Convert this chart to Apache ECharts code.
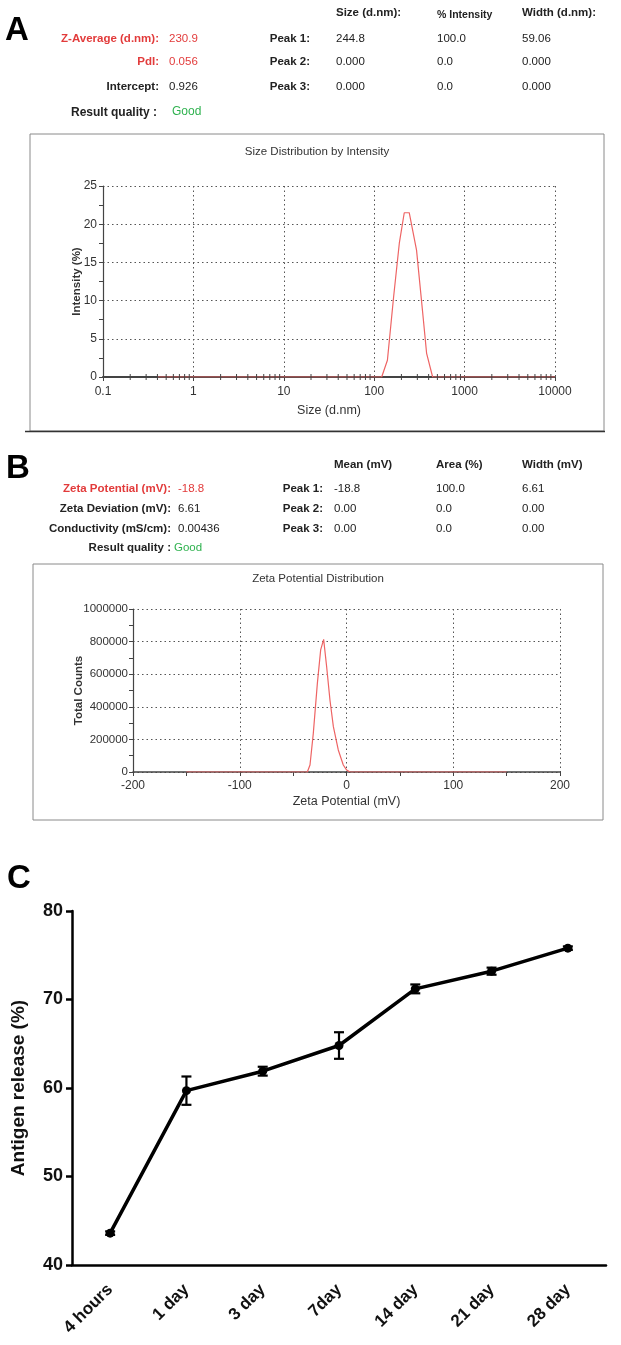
<!DOCTYPE html>
<html>
<head>
<meta charset="utf-8">
<script src="https://cdn.jsdelivr.net/npm/echarts@6/dist/echarts.min.js"></script>
<style>
html,body{margin:0;padding:0;background:#fff;}
#chart{width:621px;height:1345px;}
</style>
</head>
<body>
<div id="chart"></div>
<script>
// ---------- Panel A data ----------
const aLabels = ['Z-Average (d.nm):', 'PdI:', 'Intercept:'];
const aValues = ['230.9', '0.056', '0.926'];
const aPeakHeaders = ['Size (d.nm):', '% Intensity', 'Width (d.nm):'];
const aPeakNames = ['Peak 1:', 'Peak 2:', 'Peak 3:'];
const aPeakSize = ['244.8', '0.000', '0.000'];
const aPeakIntensity = ['100.0', '0.0', '0.0'];
const aPeakWidth = ['59.06', '0.000', '0.000'];
const aQuality = 'Good';
const sizeNm = [0.4, 1, 10, 100, 121, 140, 164, 190, 215, 244, 294, 342, 380, 443, 531, 1000, 10000];
const intensityPct = [0, 0, 0, 0, 0, 2.2, 10.5, 17.6, 21.5, 21.5, 16.6, 8.7, 3.1, 0, 0, 0, 0];
const logDecades = [0.1, 1, 10, 100, 1000];
const logMinorSteps = [2, 3, 4, 5, 6, 7, 8, 9];

// ---------- Panel B data ----------
const bLabels = ['Zeta Potential (mV):', 'Zeta Deviation (mV):', 'Conductivity (mS/cm):'];
const bValues = ['-18.8', '6.61', '0.00436'];
const bPeakHeaders = ['Mean (mV)', 'Area (%)', 'Width (mV)'];
const bPeakNames = ['Peak 1:', 'Peak 2:', 'Peak 3:'];
const bPeakMean = ['-18.8', '0.00', '0.00'];
const bPeakArea = ['100.0', '0.0', '0.0'];
const bPeakWidth = ['6.61', '0.00', '0.00'];
const bQuality = 'Good';
const zetaMv = [-150, -40, -36.7, -34.2, -31.1, -27.3, -24.2, -21.4, -18.6, -15.5, -12.3, -7.7, -3.0, 0.2, 3.3, 150];
const totalCounts = [0, 0, 0, 43000, 237000, 544000, 749000, 814000, 646000, 442000, 278000, 135000, 43000, 12000, 0, 0];

// ---------- Panel C data ----------
const timePoints = ['4 hours', '1 day', '3 day', '7day', '14 day', '21 day', '28 day'];
const releasePct = [43.6, 59.7, 61.9, 64.8, 71.2, 73.2, 75.8];
const releaseErr = [0.2, 1.6, 0.5, 1.5, 0.5, 0.4, 0.2];

// ---------- helpers ----------
const SANS = "'Liberation Sans', Arial, sans-serif";
const NARROW = "'Liberation Sans Narrow', 'Liberation Sans', Arial, sans-serif";
const RED_TXT = '#e23b3b';
const GREEN_TXT = '#2fb24f';
const DARK = '#222';
const G = [];
function T(x, y, text, o) {
  o = o || {};
  G.push({
    type: 'text', x: x, y: y, silent: true, z: 10,
    style: {
      text: text, fill: o.c || DARK,
      font: (o.w || 'normal') + ' ' + (o.s || 11.5) + 'px ' + (o.f || SANS),
      textAlign: o.a || 'left', textVerticalAlign: 'middle', verticalAlign: 'middle'
    }
  });
}
function R(x, y, w, h, stroke, lw) {
  G.push({type: 'rect', silent: true, z: 1, shape: {x: x, y: y, width: w, height: h},
    style: {fill: 'none', stroke: stroke, lineWidth: lw}});
}
function L(x1, y1, x2, y2, stroke, lw) {
  G.push({type: 'line', silent: true, z: 2, shape: {x1: x1, y1: y1, x2: x2, y2: y2},
    style: {stroke: stroke, lineWidth: lw}});
}

// Panel letters
T(5, 31, 'A', {w: 'bold', s: 33, c: '#000'});
T(6, 469, 'B', {w: 'bold', s: 33, c: '#000'});
T(7, 879, 'C', {w: 'bold', s: 33, c: '#000'});

// Panel A table
const aRowY = [39, 62, 87];
aLabels.forEach(function (t, i) {
  const red = i < 2;
  T(159, aRowY[i], t, {a: 'right', w: 'bold', c: red ? RED_TXT : DARK});
  T(169, aRowY[i], aValues[i], {c: red ? RED_TXT : DARK});
});
T(157, 113, 'Result quality :', {a: 'right', w: 'bold', s: 12});
T(172, 112, aQuality, {c: GREEN_TXT, s: 12});
const aColX = [336, 437, 522];
aPeakHeaders.forEach(function (t, i) {
  T(aColX[i], i === 1 ? 15 : 13, t, {w: 'bold', s: i === 1 ? 10.5 : 11.5});
});
aPeakNames.forEach(function (t, i) {
  T(310, aRowY[i], t, {a: 'right', w: 'bold'});
  T(aColX[0], aRowY[i], aPeakSize[i]);
  T(aColX[1], aRowY[i], aPeakIntensity[i]);
  T(aColX[2], aRowY[i], aPeakWidth[i]);
});
R(30, 134, 574, 297, '#8a8a8a', 1);
L(25, 431.5, 605, 431.5, '#333', 1.6);
T(317, 152, 'Size Distribution by Intensity', {a: 'center', s: 11.5, f: NARROW, c: '#333'});

// Panel B table
const bRowY = [489, 509, 529];
bLabels.forEach(function (t, i) {
  const red = i === 0;
  T(171, bRowY[i], t, {a: 'right', w: 'bold', c: red ? RED_TXT : DARK});
  T(178, bRowY[i], bValues[i], {c: red ? RED_TXT : DARK});
});
T(171, 548, 'Result quality :', {a: 'right', w: 'bold'});
T(174, 548, bQuality, {c: GREEN_TXT});
const bColX = [334, 436, 522];
bPeakHeaders.forEach(function (t, i) { T(bColX[i], 465, t, {w: 'bold'}); });
bPeakNames.forEach(function (t, i) {
  T(323, bRowY[i], t, {a: 'right', w: 'bold'});
  T(bColX[0], bRowY[i], bPeakMean[i]);
  T(bColX[1], bRowY[i], bPeakArea[i]);
  T(bColX[2], bRowY[i], bPeakWidth[i]);
});
R(33, 564, 570, 256, '#8a8a8a', 1);
T(318, 579, 'Zeta Potential Distribution', {a: 'center', s: 11.5, f: NARROW, c: '#333'});

// ---------- option ----------
const logMinor = [];
logDecades.forEach(function (d) { logMinorSteps.forEach(function (k) { logMinor.push([k * d, 0]); }); });

const AX = '#444';
const dotted = {show: true, lineStyle: {type: [1.5, 3], color: '#555', width: 1}};
const smallLabel = {color: '#333', fontSize: 12, fontFamily: NARROW};
const plain = function (v) { return String(v); };

const option = {
  backgroundColor: '#fff',
  animation: false,
  graphic: G,
  grid: [
    {left: 103, top: 186, width: 452, height: 191},
    {left: 133, top: 609, width: 427, height: 163},
    {left: 72, top: 911, width: 534, height: 354}
  ],
  xAxis: [
    {
      gridIndex: 0, type: 'log', logBase: 10, min: 0.1, max: 10000,
      axisLine: {onZero: false, lineStyle: {color: AX, width: 2}},
      axisTick: {length: 4, lineStyle: {color: AX}},
      axisLabel: Object.assign({margin: 9, formatter: function (v) { return v < 1 ? String(+v.toFixed(1)) : String(Math.round(v)); }}, smallLabel),
      splitLine: dotted,
      name: 'Size (d.nm)', nameLocation: 'middle', nameGap: 27, nameMoveOverlap: false,
      nameTextStyle: {color: '#333', fontSize: 12.5, fontFamily: NARROW}
    },
    {
      gridIndex: 1, type: 'value', min: -200, max: 200, interval: 100,
      axisLine: {onZero: false, lineStyle: {color: AX, width: 1.5}},
      axisTick: {length: 4, lineStyle: {color: AX}},
      minorTick: {show: true, splitNumber: 2, length: 4, lineStyle: {color: AX}},
      axisLabel: Object.assign({margin: 8, formatter: plain}, smallLabel),
      splitLine: dotted,
      name: 'Zeta Potential (mV)', nameLocation: 'middle', nameGap: 23, nameMoveOverlap: false,
      nameTextStyle: {color: '#333', fontSize: 12.5, fontFamily: NARROW}
    },
    {
      gridIndex: 2, type: 'category', data: timePoints, boundaryGap: true,
      axisLine: {onZero: false, lineStyle: {color: '#000', width: 2.5}},
      axisTick: {alignWithLabel: true, length: 6, lineStyle: {color: '#000', width: 2.5}},
      axisLabel: {rotate: 45, margin: 22, color: '#111', fontSize: 17, fontWeight: 'bold', fontFamily: SANS, interval: 0},
      splitLine: {show: false}
    }
  ],
  yAxis: [
    {
      gridIndex: 0, type: 'value', min: 0, max: 25, interval: 5,
      axisLine: {show: true, onZero: false, lineStyle: {color: AX, width: 1.2}},
      axisTick: {show: true, length: 4, lineStyle: {color: AX}},
      minorTick: {show: true, splitNumber: 2, length: 4, lineStyle: {color: AX}},
      axisLabel: Object.assign({margin: 6, formatter: plain}, smallLabel),
      splitLine: dotted,
      name: 'Intensity (%)', nameLocation: 'middle', nameGap: 20, nameMoveOverlap: false,
      nameTextStyle: {color: '#333', fontSize: 11.5, fontWeight: 'bold', fontFamily: SANS}
    },
    {
      gridIndex: 1, type: 'value', min: 0, max: 1000000, interval: 200000,
      axisLine: {show: true, onZero: false, lineStyle: {color: AX, width: 1.2}},
      axisTick: {show: true, length: 4, lineStyle: {color: AX}},
      minorTick: {show: true, splitNumber: 2, length: 4, lineStyle: {color: AX}},
      axisLabel: Object.assign({margin: 5, formatter: plain}, smallLabel, {fontSize: 11.5}),
      splitLine: dotted,
      name: 'Total Counts', nameLocation: 'middle', nameGap: 48, nameMoveOverlap: false,
      nameTextStyle: {color: '#333', fontSize: 11.5, fontWeight: 'bold', fontFamily: SANS}
    },
    {
      gridIndex: 2, type: 'value', min: 40, max: 80, interval: 10,
      axisLine: {show: true, onZero: false, lineStyle: {color: '#000', width: 2.5}},
      axisTick: {show: true, length: 6, lineStyle: {color: '#000', width: 2.5}},
      axisLabel: {margin: 9, color: '#111', fontSize: 18, fontWeight: 'bold', fontFamily: SANS},
      splitLine: {show: false},
      name: 'Antigen release (%)', nameLocation: 'middle', nameGap: 44, nameMoveOverlap: false,
      nameTextStyle: {color: '#111', fontSize: 19, fontWeight: 'bold', fontFamily: SANS}
    }
  ],
  series: [
    {
      type: 'line', xAxisIndex: 0, yAxisIndex: 0, symbol: 'none', z: 5,
      data: sizeNm.map(function (s, i) { return [s, intensityPct[i]]; }),
      lineStyle: {color: '#ee6464', width: 1.2}
    },
    {
      type: 'custom', xAxisIndex: 0, yAxisIndex: 0, silent: true, clip: false, z: 6,
      data: logMinor,
      renderItem: function (params, api) {
        const p = api.coord([api.value(0), api.value(1)]);
        return {type: 'line', shape: {x1: p[0], y1: p[1] - 3, x2: p[0], y2: p[1] + 3},
          style: {stroke: AX, lineWidth: 1}};
      }
    },
    {
      type: 'line', xAxisIndex: 1, yAxisIndex: 1, symbol: 'none', z: 5,
      data: zetaMv.map(function (v, i) { return [v, totalCounts[i]]; }),
      lineStyle: {color: '#ee6464', width: 1.2}
    },
    {
      type: 'line', xAxisIndex: 2, yAxisIndex: 2, z: 5,
      data: releasePct,
      symbol: 'circle', symbolSize: 9,
      itemStyle: {color: '#000'},
      lineStyle: {color: '#000', width: 3.5}
    },
    {
      type: 'custom', xAxisIndex: 2, yAxisIndex: 2, silent: true, z: 6,
      data: releasePct.map(function (v, i) { return [i, v - releaseErr[i], v + releaseErr[i]]; }),
      renderItem: function (params, api) {
        const i = api.value(0);
        const lo = api.coord([i, api.value(1)]);
        const hi = api.coord([i, api.value(2)]);
        const w = 5;
        const st = {stroke: '#000', lineWidth: 2.2};
        return {type: 'group', children: [
          {type: 'line', shape: {x1: lo[0], y1: lo[1], x2: hi[0], y2: hi[1]}, style: st},
          {type: 'line', shape: {x1: lo[0] - w, y1: lo[1], x2: lo[0] + w, y2: lo[1]}, style: st},
          {type: 'line', shape: {x1: hi[0] - w, y1: hi[1], x2: hi[0] + w, y2: hi[1]}, style: st}
        ]};
      }
    }
  ]
};

const chart = echarts.init(document.getElementById('chart'), null, {renderer: 'canvas', width: 621, height: 1345});
chart.setOption(option);
</script>
</body>
</html>
